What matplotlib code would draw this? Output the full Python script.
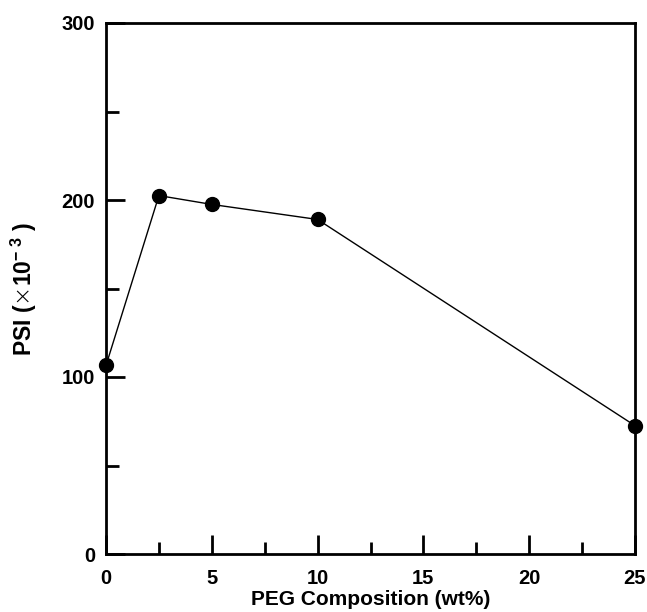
import matplotlib
matplotlib.use('Agg')
import matplotlib.pyplot as plt
from matplotlib.ticker import MultipleLocator

# PEG content (wt%) vs PSI (x10^-3)
peg = [0, 2.5, 5, 10, 25]
psi = [106.5, 202.5, 197.5, 189, 72.5]

plt.rcParams['font.family'] = ['Liberation Sans', 'DejaVu Sans']
plt.rcParams['mathtext.fontset'] = 'custom'
plt.rcParams['mathtext.rm'] = 'Liberation Sans:bold'
plt.rcParams['mathtext.it'] = 'Liberation Sans:bold'
plt.rcParams['mathtext.bf'] = 'Liberation Sans:bold'
plt.rcParams['mathtext.sf'] = 'DejaVu Sans:light'

fig = plt.figure(figsize=(6.47, 6.12), dpi=100)
ax = fig.add_axes([106 / 647, 1 - 554 / 612, 529 / 647, 531 / 612])

ax.plot(peg, psi, color='black', linewidth=1, marker='o', markersize=10,
        markerfacecolor='black', clip_on=False, zorder=3)

ax.set_xlim(0, 25)
ax.set_ylim(0, 300)
ax.xaxis.set_major_locator(MultipleLocator(5))
ax.xaxis.set_minor_locator(MultipleLocator(2.5))
ax.yaxis.set_major_locator(MultipleLocator(100))
ax.yaxis.set_minor_locator(MultipleLocator(50))

ax.tick_params(which='both', direction='in', top=False, right=False,
               width=2, labelsize=14.5)
ax.tick_params(axis='x', pad=11)
ax.tick_params(axis='y', pad=8)
ax.tick_params(which='major', length=14)
ax.tick_params(which='minor', length=9)
for lbl in ax.get_xticklabels() + ax.get_yticklabels():
    lbl.set_fontweight('bold')
for sp in ax.spines.values():
    sp.set_linewidth(2)

ax.set_xlabel('PEG Composition (wt%)', fontsize=15, fontweight='bold', labelpad=1)
ax.set_ylabel(r'PSI ($\mathsf{\times}$10$^{-\ 3}$ )', fontsize=16.5, fontweight='bold')
ax.yaxis.set_label_coords(-0.126, 0.5)

fig.savefig('out.png', dpi=100)
